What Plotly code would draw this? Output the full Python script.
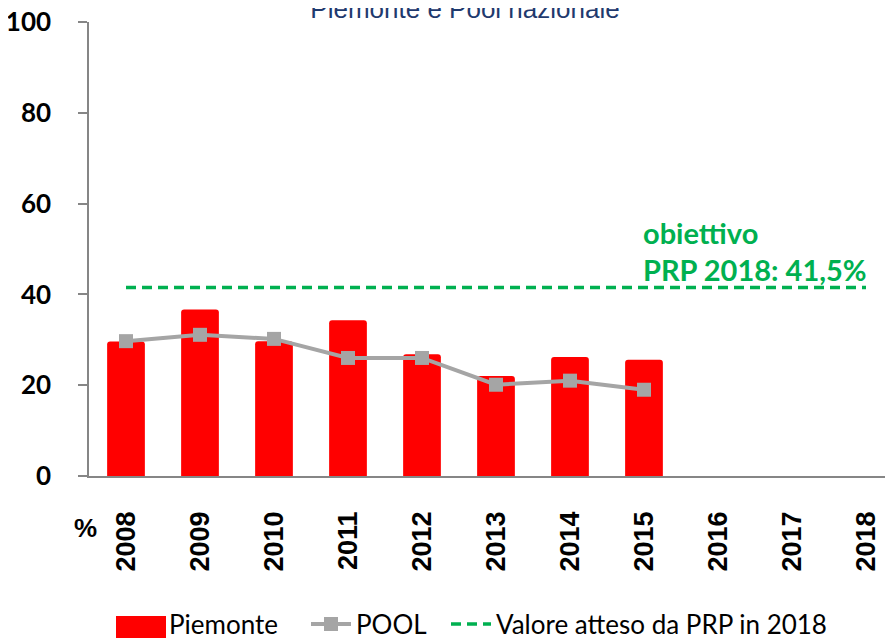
import plotly.graph_objects as go

years = ["2008", "2009", "2010", "2011", "2012", "2013", "2014", "2015", "2016", "2017", "2018"]
bar_years = years[:8]
piemonte = [29.6, 36.7, 29.7, 34.3, 26.8, 22.0, 26.2, 25.6]
pool = [29.7, 31.1, 30.2, 26.0, 26.0, 20.1, 21.0, 19.0]
target_value = 41.5
target = [target_value] * len(years)
y_ticks = [0, 20, 40, 60, 80, 100]

GREEN = "#00B050"
GRAY_AX = "#868686"
RED = "#FF0000"

W, H = 885, 630
L, T, B = 81, 14, 162
PH = H - T - B  # plot height
PW = W - L

legfont = dict(family="Lato", size=26, color="black")
leg_y = (H - B - 616) / PH

fig = go.Figure()
fig.add_trace(go.Bar(
    x=bar_years, y=piemonte, name="Piemonte",
    marker=dict(color=RED, line=dict(width=0)),
    width=0.51, legend="legend",
))
fig.add_trace(go.Scatter(
    x=bar_years, y=pool, name="POOL", mode="lines+markers",
    line=dict(color="#A5A5A5", width=4),
    marker=dict(symbol="square", size=14, color="#A5A5A5"),
    legend="legend2",
))
fig.add_trace(go.Scatter(
    x=years, y=target, name="Valore atteso da PRP in 2018", mode="lines",
    line=dict(color=GREEN, width=3.5, dash="10px,6px"),
    legend="legend3",
))

fig.add_annotation(x=7, y=53.6, xref="x", yref="y", xanchor="left", yanchor="middle",
                   text="obiettivo", showarrow=False, xshift=-3,
                   font=dict(family="Lato", size=29, color=GREEN, weight="bold"))
fig.add_annotation(x=7, y=45.4, xref="x", yref="y", xanchor="left", yanchor="middle",
                   text="PRP 2018: 41,5%", showarrow=False, xshift=-3,
                   font=dict(family="Lato", size=29, color=GREEN, weight="bold"))
fig.add_annotation(x=(77 - L) / PW, y=(H - B - 520) / PH, xref="paper", yref="paper",
                   text="%", showarrow=False, xanchor="center", yanchor="middle",
                   font=dict(family="Liberation Sans", size=26, color="black", weight="bold"))

# wide legend key for the bar series (as in the reference legend)
fig.add_shape(type="rect", xref="paper", yref="paper", layer="above",
              x0=(108 - L) / PW, x1=(158 - L) / PW,
              y0=(H - B - 608) / PH, y1=(H - B - 630) / PH,
              fillcolor=RED, line=dict(width=0))

def leg(xpx):
    return dict(orientation="h", x=(xpx - L) / PW, xanchor="left", y=leg_y, yanchor="middle",
                font=legfont, itemwidth=40, bgcolor="rgba(0,0,0,0)")

fig.update_layout(
    width=W, height=H,
    margin=dict(l=L, r=0, t=T, b=B, autoexpand=False),
    plot_bgcolor="white", paper_bgcolor="white",
    showlegend=True,
    barcornerradius=3,
    legend=leg(111),
    legend2=leg(298),
    legend3=leg(438),
    title=dict(text="Piemonte e Pool nazionale", x=457 / W, xanchor="center",
               y=1 - 10 / H, yanchor="bottom",
               font=dict(family="Liberation Sans", size=26, color="#1F3A6E")),
)

fig.update_xaxes(
    type="category", categoryorder="array", categoryarray=years,
    range=[-0.5, 10.365], showline=True, linecolor=GRAY_AX, linewidth=1.5,
    showgrid=False, ticks="", tickangle=-90, ticklabelstandoff=23,
    tickfont=dict(family="Liberation Sans", size=27, color="black", weight="bold"),
    automargin=False,
)
fig.update_yaxes(
    range=[0, 100], tickvals=y_ticks, showline=True, linecolor=GRAY_AX, linewidth=1.5,
    showgrid=False, zeroline=False, ticks="outside", ticklen=9, tickcolor=GRAY_AX, tickwidth=1.5,
    ticklabelstandoff=22, ticklabeloverflow="allow",
    tickfont=dict(family="Lato", size=26, color="black", weight="bold"),
    automargin=False,
)

fig.write_html("out.html")
